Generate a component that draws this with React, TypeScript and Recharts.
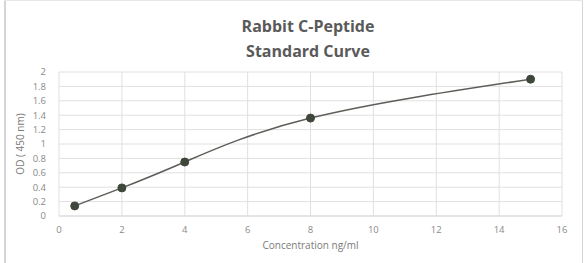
import React from "react";
import { LineChart, Line, XAxis, YAxis, CartesianGrid, Label } from "recharts";

const concentrations = [0.5, 2, 4, 8, 15];
const odValues = [0.14, 0.39, 0.75, 1.36, 1.9];
const xTicks = [0, 2, 4, 6, 8, 10, 12, 14, 16];
const yTicks = [0, 0.2, 0.4, 0.6, 0.8, 1, 1.2, 1.4, 1.6, 1.8, 2];
const titleLines = ["Rabbit C-Peptide", "Standard Curve"];

const data = concentrations.map((c, i) => ({ x: c, y: odValues[i] }));

const FONT = "'Open Sans', 'Liberation Sans', sans-serif";

export default function App() {
  return (
    <div
      style={{
        position: "fixed",
        left: 0,
        top: 0,
        width: 585,
        height: 263,
        background: "#fff",
        overflow: "hidden",
        fontFamily: FONT,
      }}
    >
      <div style={{ position: "absolute", left: 4, top: 0, width: 2, height: 263, background: "#d4d4d4" }} />
      <div style={{ position: "absolute", left: 582, top: 0, width: 1, height: 263, background: "#d4d4d4" }} />
      <div style={{ position: "absolute", left: 4, top: 0, width: 579, height: 1, background: "#e6e6e6" }} />
      <div
        style={{
          position: "absolute",
          left: 0,
          top: 14,
          width: 616,
          textAlign: "center",
          fontWeight: 700,
          fontSize: 16,
          lineHeight: "25px",
          color: "#5a5a5a",
        }}
      >
        {titleLines.map((t) => (
          <div key={t}>{t}</div>
        ))}
      </div>
      <div style={{ position: "absolute", left: 0, top: 0 }}>
        <LineChart
          width={585}
          height={263}
          data={data}
          margin={{ top: 72, right: 23, bottom: 0, left: 0 }}
        >
          <CartesianGrid stroke="#e0e0e0" strokeWidth={1} />
          <XAxis
            dataKey="x"
            type="number"
            domain={[0, 16]}
            ticks={xTicks}
            axisLine={{ stroke: "#d9d9d9" }}
            tickLine={false}
            tick={{ fontSize: 9.5, fill: "#8a8a8a", fontFamily: FONT }}
            tickMargin={4}
            height={47}
          >
            <Label
              value="Concentration ng/ml"
              position="insideBottom"
              offset={14}
              style={{ fontSize: 10, fill: "#7a7a7a", fontFamily: FONT }}
            />
          </XAxis>
          <YAxis
            type="number"
            domain={[0, 2]}
            ticks={yTicks}
            interval={0}
            axisLine={false}
            tickLine={false}
            width={59}
            tick={{ fontSize: 9.5, fill: "#8a8a8a", fontFamily: FONT }}
            tickMargin={7}
            tickFormatter={(v: number) => String(Math.round(v * 10) / 10)}
          >
            <Label
              value="OD ( 450 nm)"
              angle={-90}
              position="insideLeft"
              offset={20}
              style={{ fontSize: 10, fill: "#7a7a7a", fontFamily: FONT, textAnchor: "middle" }}
            />
          </YAxis>
          <Line
            type="natural"
            dataKey="y"
            stroke="#5b5f58"
            strokeWidth={1.5}
            dot={{ r: 4, fill: "#3e4739", stroke: "#3e4739", strokeWidth: 1 }}
            isAnimationActive={false}
          />
        </LineChart>
      </div>
    </div>
  );
}
